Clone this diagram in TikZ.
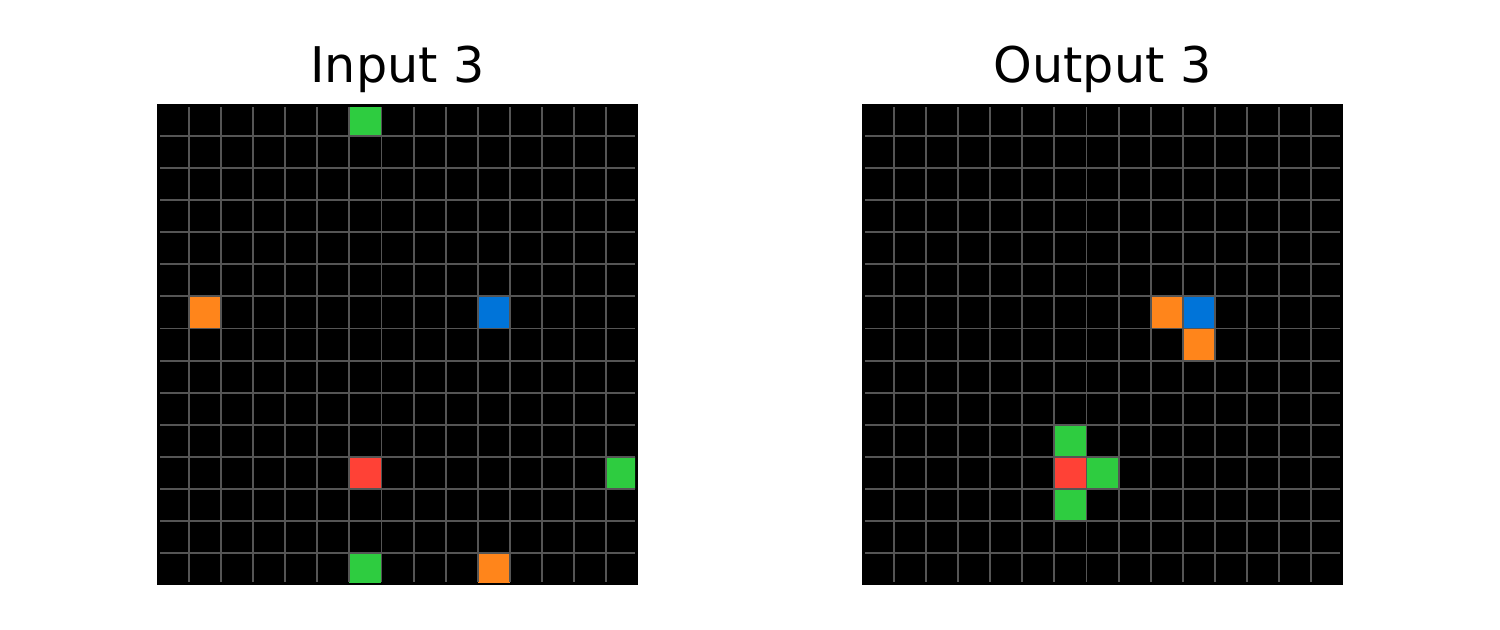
\documentclass[tikz,border=0pt]{standalone}
\usepackage{fontspec}
\setmainfont{DejaVu Sans}
\usetikzlibrary{positioning}
\definecolor{arcgreen}{HTML}{2ECC40}
\definecolor{arcorange}{HTML}{FF851B}
\definecolor{arcblue}{HTML}{0074D9}
\definecolor{arcred}{HTML}{FF4136}
\definecolor{gridgray}{HTML}{555555}
\newcommand{\csz}{32.07}

\begin{document}
\begin{tikzpicture}[x=0.02cm, y=-0.02cm,
    title/.style={font=\fontsize{28}{34}\selectfont, anchor=base, inner sep=0pt},
    gridline/.style={draw=gridgray, line width=1.1pt},
]
\useasboundingbox (0,0) rectangle (1500,629);

\node[title] (intitle) at (397.5,82) {Input 3};
\node[title] (outtitle) at (1102.5,82) {Output 3};

% input grid
\begin{scope}[shift={(157,104)}]
\fill[black] (0,0) rectangle (481,481);
\begin{scope}
\clip (3,3) rectangle (478,478);
\foreach \c/\r/\col in {6/0/arcgreen, 1/6/arcorange, 10/6/arcblue, 6/11/arcred,
                        14/11/arcgreen, 6/14/arcgreen, 10/14/arcorange}
  \fill[\col] ({\csz*\c},{\csz*\r}) rectangle +(\csz,\csz);
\end{scope}
\foreach \i in {1,...,14} {
  \draw[gridline] ({\csz*\i},3) -- ({\csz*\i},478);
  \draw[gridline] (3,{\csz*\i}) -- (478,{\csz*\i});
}
\end{scope}

% output grid
\begin{scope}[shift={(862,104)}]
\fill[black] (0,0) rectangle (481,481);
\begin{scope}
\clip (3,3) rectangle (478,478);
\foreach \c/\r/\col in {9/6/arcorange, 10/6/arcblue, 10/7/arcorange, 6/10/arcgreen,
                        6/11/arcred, 7/11/arcgreen, 6/12/arcgreen}
  \fill[\col] ({\csz*\c},{\csz*\r}) rectangle +(\csz,\csz);
\end{scope}
\foreach \i in {1,...,14} {
  \draw[gridline] ({\csz*\i},3) -- ({\csz*\i},478);
  \draw[gridline] (3,{\csz*\i}) -- (478,{\csz*\i});
}
\end{scope}
\end{tikzpicture}
\end{document}
